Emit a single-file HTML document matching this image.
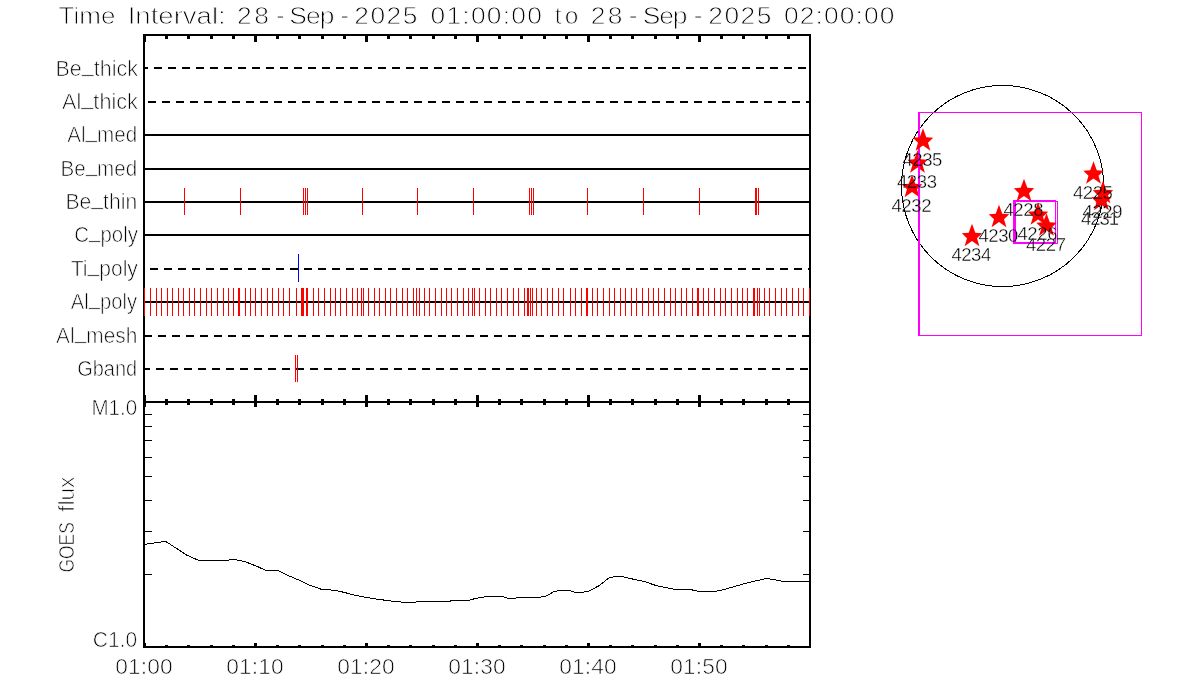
<!DOCTYPE html>
<html lang="en"><head><meta charset="utf-8"><title>Time Interval plot</title>
<style>html,body{margin:0;padding:0;background:#fff;width:1200px;height:700px;overflow:hidden}svg{display:block}text{font-family:'Liberation Sans', sans-serif;fill:#000}.t{stroke:#fff;mix-blend-mode:darken}</style></head><body>
<svg width="1200" height="700" viewBox="0 0 1200 700">
<rect width="1200" height="700" fill="#fff"/>
<g shape-rendering="crispEdges">
<path d="M145 68h3M154 68h8M168 68h8M182 68h8M196 68h8M210 68h8M224 68h8M238 68h8M252 68h8M266 68h8M280 68h8M294 68h8M308 68h8M322 68h8M336 68h8M350 68h8M364 68h8M378 68h8M392 68h8M406 68h8M420 68h8M434 68h8M448 68h8M462 68h8M476 68h8M490 68h8M504 68h8M518 68h8M532 68h8M546 68h8M560 68h8M574 68h8M588 68h8M602 68h8M616 68h8M630 68h8M644 68h8M658 68h8M672 68h8M686 68h8M700 68h8M714 68h8M728 68h8M742 68h8M756 68h8M770 68h8M784 68h8M798 68h8" stroke="#000" stroke-width="2" fill="none"/>
<path d="M148 102h8M162 102h8M176 102h8M190 102h8M204 102h8M218 102h8M232 102h8M246 102h8M260 102h8M274 102h8M288 102h8M302 102h8M316 102h8M330 102h8M344 102h8M358 102h8M372 102h8M386 102h8M400 102h8M414 102h8M428 102h8M442 102h8M456 102h8M470 102h8M484 102h8M498 102h8M512 102h8M526 102h8M540 102h8M554 102h8M568 102h8M582 102h8M596 102h8M610 102h8M624 102h8M638 102h8M652 102h8M666 102h8M680 102h8M694 102h8M708 102h8M722 102h8M736 102h8M750 102h8M764 102h8M778 102h8M792 102h8M806 102h3" stroke="#000" stroke-width="2" fill="none"/>
<rect x="145" y="134" width="664" height="2" fill="#000"/>
<rect x="145" y="168" width="664" height="2" fill="#000"/>
<rect x="145" y="201" width="664" height="2" fill="#000"/>
<rect x="145" y="234" width="664" height="2" fill="#000"/>
<path d="M150 269h8M164 269h8M178 269h8M192 269h8M206 269h8M220 269h8M234 269h8M248 269h8M262 269h8M276 269h8M290 269h8M304 269h8M318 269h8M332 269h8M346 269h8M360 269h8M374 269h8M388 269h8M402 269h8M416 269h8M430 269h8M444 269h8M458 269h8M472 269h8M486 269h8M500 269h8M514 269h8M528 269h8M542 269h8M556 269h8M570 269h8M584 269h8M598 269h8M612 269h8M626 269h8M640 269h8M654 269h8M668 269h8M682 269h8M696 269h8M710 269h8M724 269h8M738 269h8M752 269h8M766 269h8M780 269h8M794 269h8M808 269h1" stroke="#000" stroke-width="2" fill="none"/>
<rect x="145" y="301" width="664" height="2" fill="#000"/>
<path d="M145 336h7M158 336h8M172 336h8M186 336h8M200 336h8M214 336h8M228 336h8M242 336h8M256 336h8M270 336h8M284 336h8M298 336h8M312 336h8M326 336h8M340 336h8M354 336h8M368 336h8M382 336h8M396 336h8M410 336h8M424 336h8M438 336h8M452 336h8M466 336h8M480 336h8M494 336h8M508 336h8M522 336h8M536 336h8M550 336h8M564 336h8M578 336h8M592 336h8M606 336h8M620 336h8M634 336h8M648 336h8M662 336h8M676 336h8M690 336h8M704 336h8M718 336h8M732 336h8M746 336h8M760 336h8M774 336h8M788 336h8M802 336h7" stroke="#000" stroke-width="2" fill="none"/>
<path d="M145 369h5M156 369h8M170 369h8M184 369h8M198 369h8M212 369h8M226 369h8M240 369h8M254 369h8M268 369h8M282 369h8M296 369h8M310 369h8M324 369h8M338 369h8M352 369h8M366 369h8M380 369h8M394 369h8M408 369h8M422 369h8M436 369h8M450 369h8M464 369h8M478 369h8M492 369h8M506 369h8M520 369h8M534 369h8M548 369h8M562 369h8M576 369h8M590 369h8M604 369h8M618 369h8M632 369h8M646 369h8M660 369h8M674 369h8M688 369h8M702 369h8M716 369h8M730 369h8M744 369h8M758 369h8M772 369h8M786 369h8M800 369h8" stroke="#000" stroke-width="2" fill="none"/>
<rect x="143" y="34" width="2" height="614" fill="#000"/>
<rect x="809" y="34" width="2" height="614" fill="#000"/>
<rect x="143" y="34" width="668" height="2" fill="#000"/>
<rect x="143" y="401" width="668" height="2" fill="#000"/>
<rect x="143" y="646" width="668" height="2" fill="#000"/>
<rect x="143" y="36" width="3" height="6" fill="#000"/>
<rect x="143" y="395" width="3" height="12" fill="#000"/>
<rect x="143" y="643" width="3" height="3" fill="#000"/>
<rect x="165" y="36" width="3" height="3" fill="#000"/>
<rect x="165" y="399" width="3" height="6" fill="#000"/>
<rect x="165" y="645" width="3" height="1" fill="#000"/>
<rect x="187" y="36" width="3" height="3" fill="#000"/>
<rect x="187" y="399" width="3" height="6" fill="#000"/>
<rect x="187" y="645" width="3" height="1" fill="#000"/>
<rect x="210" y="36" width="3" height="3" fill="#000"/>
<rect x="210" y="399" width="3" height="6" fill="#000"/>
<rect x="210" y="645" width="3" height="1" fill="#000"/>
<rect x="232" y="36" width="3" height="3" fill="#000"/>
<rect x="232" y="399" width="3" height="6" fill="#000"/>
<rect x="232" y="645" width="3" height="1" fill="#000"/>
<rect x="254" y="36" width="3" height="6" fill="#000"/>
<rect x="254" y="395" width="3" height="12" fill="#000"/>
<rect x="254" y="643" width="3" height="3" fill="#000"/>
<rect x="276" y="36" width="3" height="3" fill="#000"/>
<rect x="276" y="399" width="3" height="6" fill="#000"/>
<rect x="276" y="645" width="3" height="1" fill="#000"/>
<rect x="298" y="36" width="3" height="3" fill="#000"/>
<rect x="298" y="399" width="3" height="6" fill="#000"/>
<rect x="298" y="645" width="3" height="1" fill="#000"/>
<rect x="321" y="36" width="3" height="3" fill="#000"/>
<rect x="321" y="399" width="3" height="6" fill="#000"/>
<rect x="321" y="645" width="3" height="1" fill="#000"/>
<rect x="343" y="36" width="3" height="3" fill="#000"/>
<rect x="343" y="399" width="3" height="6" fill="#000"/>
<rect x="343" y="645" width="3" height="1" fill="#000"/>
<rect x="365" y="36" width="3" height="6" fill="#000"/>
<rect x="365" y="395" width="3" height="12" fill="#000"/>
<rect x="365" y="643" width="3" height="3" fill="#000"/>
<rect x="387" y="36" width="3" height="3" fill="#000"/>
<rect x="387" y="399" width="3" height="6" fill="#000"/>
<rect x="387" y="645" width="3" height="1" fill="#000"/>
<rect x="409" y="36" width="3" height="3" fill="#000"/>
<rect x="409" y="399" width="3" height="6" fill="#000"/>
<rect x="409" y="645" width="3" height="1" fill="#000"/>
<rect x="432" y="36" width="3" height="3" fill="#000"/>
<rect x="432" y="399" width="3" height="6" fill="#000"/>
<rect x="432" y="645" width="3" height="1" fill="#000"/>
<rect x="454" y="36" width="3" height="3" fill="#000"/>
<rect x="454" y="399" width="3" height="6" fill="#000"/>
<rect x="454" y="645" width="3" height="1" fill="#000"/>
<rect x="476" y="36" width="3" height="6" fill="#000"/>
<rect x="476" y="395" width="3" height="12" fill="#000"/>
<rect x="476" y="643" width="3" height="3" fill="#000"/>
<rect x="498" y="36" width="3" height="3" fill="#000"/>
<rect x="498" y="399" width="3" height="6" fill="#000"/>
<rect x="498" y="645" width="3" height="1" fill="#000"/>
<rect x="520" y="36" width="3" height="3" fill="#000"/>
<rect x="520" y="399" width="3" height="6" fill="#000"/>
<rect x="520" y="645" width="3" height="1" fill="#000"/>
<rect x="543" y="36" width="3" height="3" fill="#000"/>
<rect x="543" y="399" width="3" height="6" fill="#000"/>
<rect x="543" y="645" width="3" height="1" fill="#000"/>
<rect x="565" y="36" width="3" height="3" fill="#000"/>
<rect x="565" y="399" width="3" height="6" fill="#000"/>
<rect x="565" y="645" width="3" height="1" fill="#000"/>
<rect x="587" y="36" width="3" height="6" fill="#000"/>
<rect x="587" y="395" width="3" height="12" fill="#000"/>
<rect x="587" y="643" width="3" height="3" fill="#000"/>
<rect x="609" y="36" width="3" height="3" fill="#000"/>
<rect x="609" y="399" width="3" height="6" fill="#000"/>
<rect x="609" y="645" width="3" height="1" fill="#000"/>
<rect x="631" y="36" width="3" height="3" fill="#000"/>
<rect x="631" y="399" width="3" height="6" fill="#000"/>
<rect x="631" y="645" width="3" height="1" fill="#000"/>
<rect x="654" y="36" width="3" height="3" fill="#000"/>
<rect x="654" y="399" width="3" height="6" fill="#000"/>
<rect x="654" y="645" width="3" height="1" fill="#000"/>
<rect x="676" y="36" width="3" height="3" fill="#000"/>
<rect x="676" y="399" width="3" height="6" fill="#000"/>
<rect x="676" y="645" width="3" height="1" fill="#000"/>
<rect x="698" y="36" width="3" height="6" fill="#000"/>
<rect x="698" y="395" width="3" height="12" fill="#000"/>
<rect x="698" y="643" width="3" height="3" fill="#000"/>
<rect x="720" y="36" width="3" height="3" fill="#000"/>
<rect x="720" y="399" width="3" height="6" fill="#000"/>
<rect x="720" y="645" width="3" height="1" fill="#000"/>
<rect x="742" y="36" width="3" height="3" fill="#000"/>
<rect x="742" y="399" width="3" height="6" fill="#000"/>
<rect x="742" y="645" width="3" height="1" fill="#000"/>
<rect x="765" y="36" width="3" height="3" fill="#000"/>
<rect x="765" y="399" width="3" height="6" fill="#000"/>
<rect x="765" y="645" width="3" height="1" fill="#000"/>
<rect x="787" y="36" width="3" height="3" fill="#000"/>
<rect x="787" y="399" width="3" height="6" fill="#000"/>
<rect x="787" y="645" width="3" height="1" fill="#000"/>
<rect x="145" y="414" width="7" height="1" fill="#000"/>
<rect x="803" y="414" width="6" height="1" fill="#000"/>
<rect x="145" y="426" width="7" height="1" fill="#000"/>
<rect x="803" y="426" width="6" height="1" fill="#000"/>
<rect x="145" y="440" width="7" height="1" fill="#000"/>
<rect x="803" y="440" width="6" height="1" fill="#000"/>
<rect x="145" y="457" width="7" height="1" fill="#000"/>
<rect x="803" y="457" width="6" height="1" fill="#000"/>
<rect x="145" y="476" width="7" height="1" fill="#000"/>
<rect x="803" y="476" width="6" height="1" fill="#000"/>
<rect x="145" y="500" width="7" height="1" fill="#000"/>
<rect x="803" y="500" width="6" height="1" fill="#000"/>
<rect x="145" y="531" width="7" height="1" fill="#000"/>
<rect x="803" y="531" width="6" height="1" fill="#000"/>
<rect x="145" y="574" width="7" height="1" fill="#000"/>
<rect x="803" y="574" width="6" height="1" fill="#000"/>
<rect x="184" y="188" width="1" height="27" fill="#f00"/>
<rect x="240" y="188" width="1" height="27" fill="#f00"/>
<rect x="303" y="188" width="1" height="27" fill="#f00"/>
<rect x="305" y="188" width="1" height="27" fill="#f00"/>
<rect x="307" y="188" width="1" height="27" fill="#f00"/>
<rect x="362" y="188" width="1" height="27" fill="#f00"/>
<rect x="417" y="188" width="1" height="27" fill="#f00"/>
<rect x="473" y="188" width="1" height="27" fill="#f00"/>
<rect x="529" y="188" width="1" height="27" fill="#f00"/>
<rect x="531" y="188" width="1" height="27" fill="#f00"/>
<rect x="533" y="188" width="1" height="27" fill="#f00"/>
<rect x="587" y="188" width="1" height="27" fill="#f00"/>
<rect x="643" y="188" width="1" height="27" fill="#f00"/>
<rect x="699" y="188" width="1" height="27" fill="#f00"/>
<rect x="755" y="188" width="2" height="27" fill="#f00"/>
<rect x="758" y="188" width="1" height="27" fill="#f00"/>
<rect x="144" y="288" width="1" height="28" fill="#f00"/>
<rect x="150" y="288" width="1" height="28" fill="#f00"/>
<rect x="156" y="288" width="1" height="28" fill="#f00"/>
<rect x="161" y="288" width="1" height="28" fill="#f00"/>
<rect x="167" y="288" width="1" height="28" fill="#f00"/>
<rect x="172" y="288" width="1" height="28" fill="#f00"/>
<rect x="178" y="288" width="1" height="28" fill="#f00"/>
<rect x="183" y="288" width="1" height="28" fill="#f00"/>
<rect x="189" y="288" width="1" height="28" fill="#f00"/>
<rect x="194" y="288" width="1" height="28" fill="#f00"/>
<rect x="200" y="288" width="1" height="28" fill="#f00"/>
<rect x="206" y="288" width="1" height="28" fill="#f00"/>
<rect x="211" y="288" width="1" height="28" fill="#f00"/>
<rect x="217" y="288" width="1" height="28" fill="#f00"/>
<rect x="223" y="288" width="1" height="28" fill="#f00"/>
<rect x="228" y="288" width="1" height="28" fill="#f00"/>
<rect x="233" y="288" width="1" height="28" fill="#f00"/>
<rect x="238" y="288" width="2" height="28" fill="#f00"/>
<rect x="245" y="288" width="1" height="28" fill="#f00"/>
<rect x="250" y="288" width="1" height="28" fill="#f00"/>
<rect x="255" y="288" width="1" height="28" fill="#f00"/>
<rect x="261" y="288" width="1" height="28" fill="#f00"/>
<rect x="267" y="288" width="1" height="28" fill="#f00"/>
<rect x="272" y="288" width="1" height="28" fill="#f00"/>
<rect x="278" y="288" width="1" height="28" fill="#f00"/>
<rect x="283" y="288" width="1" height="28" fill="#f00"/>
<rect x="289" y="288" width="1" height="28" fill="#f00"/>
<rect x="296" y="288" width="1" height="28" fill="#f00"/>
<rect x="301" y="288" width="3" height="28" fill="#f00"/>
<rect x="306" y="288" width="2" height="28" fill="#f00"/>
<rect x="313" y="288" width="1" height="28" fill="#f00"/>
<rect x="318" y="288" width="1" height="28" fill="#f00"/>
<rect x="324" y="288" width="1" height="28" fill="#f00"/>
<rect x="330" y="288" width="1" height="28" fill="#f00"/>
<rect x="335" y="288" width="1" height="28" fill="#f00"/>
<rect x="340" y="288" width="1" height="28" fill="#f00"/>
<rect x="346" y="288" width="1" height="28" fill="#f00"/>
<rect x="352" y="288" width="1" height="28" fill="#f00"/>
<rect x="357" y="288" width="1" height="28" fill="#f00"/>
<rect x="361" y="288" width="1" height="28" fill="#f00"/>
<rect x="363" y="288" width="1" height="28" fill="#f00"/>
<rect x="368" y="288" width="1" height="28" fill="#f00"/>
<rect x="374" y="288" width="1" height="28" fill="#f00"/>
<rect x="379" y="288" width="1" height="28" fill="#f00"/>
<rect x="385" y="288" width="1" height="28" fill="#f00"/>
<rect x="390" y="288" width="1" height="28" fill="#f00"/>
<rect x="396" y="288" width="1" height="28" fill="#f00"/>
<rect x="402" y="288" width="1" height="28" fill="#f00"/>
<rect x="407" y="288" width="1" height="28" fill="#f00"/>
<rect x="413" y="288" width="1" height="28" fill="#f00"/>
<rect x="416" y="288" width="1" height="28" fill="#f00"/>
<rect x="419" y="288" width="1" height="28" fill="#f00"/>
<rect x="424" y="288" width="1" height="28" fill="#f00"/>
<rect x="429" y="288" width="1" height="28" fill="#f00"/>
<rect x="435" y="288" width="1" height="28" fill="#f00"/>
<rect x="441" y="288" width="1" height="28" fill="#f00"/>
<rect x="446" y="288" width="1" height="28" fill="#f00"/>
<rect x="451" y="288" width="1" height="28" fill="#f00"/>
<rect x="457" y="288" width="1" height="28" fill="#f00"/>
<rect x="463" y="288" width="1" height="28" fill="#f00"/>
<rect x="468" y="288" width="1" height="28" fill="#f00"/>
<rect x="472" y="288" width="1" height="28" fill="#f00"/>
<rect x="474" y="288" width="1" height="28" fill="#f00"/>
<rect x="479" y="288" width="1" height="28" fill="#f00"/>
<rect x="485" y="288" width="1" height="28" fill="#f00"/>
<rect x="490" y="288" width="1" height="28" fill="#f00"/>
<rect x="496" y="288" width="1" height="28" fill="#f00"/>
<rect x="501" y="288" width="1" height="28" fill="#f00"/>
<rect x="507" y="288" width="1" height="28" fill="#f00"/>
<rect x="513" y="288" width="1" height="28" fill="#f00"/>
<rect x="518" y="288" width="1" height="28" fill="#f00"/>
<rect x="524" y="288" width="1" height="28" fill="#f00"/>
<rect x="527" y="288" width="2" height="28" fill="#f00"/>
<rect x="530" y="288" width="1" height="28" fill="#f00"/>
<rect x="532" y="288" width="1" height="28" fill="#f00"/>
<rect x="536" y="288" width="1" height="28" fill="#f00"/>
<rect x="541" y="288" width="1" height="28" fill="#f00"/>
<rect x="547" y="288" width="1" height="28" fill="#f00"/>
<rect x="552" y="288" width="1" height="28" fill="#f00"/>
<rect x="558" y="288" width="1" height="28" fill="#f00"/>
<rect x="563" y="288" width="1" height="28" fill="#f00"/>
<rect x="570" y="288" width="1" height="28" fill="#f00"/>
<rect x="575" y="288" width="1" height="28" fill="#f00"/>
<rect x="581" y="288" width="1" height="28" fill="#f00"/>
<rect x="586" y="288" width="2" height="28" fill="#f00"/>
<rect x="592" y="288" width="1" height="28" fill="#f00"/>
<rect x="597" y="288" width="1" height="28" fill="#f00"/>
<rect x="603" y="288" width="1" height="28" fill="#f00"/>
<rect x="609" y="288" width="1" height="28" fill="#f00"/>
<rect x="614" y="288" width="1" height="28" fill="#f00"/>
<rect x="620" y="288" width="1" height="28" fill="#f00"/>
<rect x="625" y="288" width="1" height="28" fill="#f00"/>
<rect x="631" y="288" width="1" height="28" fill="#f00"/>
<rect x="636" y="288" width="1" height="28" fill="#f00"/>
<rect x="642" y="288" width="1" height="28" fill="#f00"/>
<rect x="648" y="288" width="1" height="28" fill="#f00"/>
<rect x="653" y="288" width="1" height="28" fill="#f00"/>
<rect x="658" y="288" width="1" height="28" fill="#f00"/>
<rect x="664" y="288" width="1" height="28" fill="#f00"/>
<rect x="670" y="288" width="1" height="28" fill="#f00"/>
<rect x="675" y="288" width="1" height="28" fill="#f00"/>
<rect x="681" y="288" width="1" height="28" fill="#f00"/>
<rect x="686" y="288" width="1" height="28" fill="#f00"/>
<rect x="692" y="288" width="1" height="28" fill="#f00"/>
<rect x="697" y="288" width="2" height="28" fill="#f00"/>
<rect x="703" y="288" width="1" height="28" fill="#f00"/>
<rect x="708" y="288" width="1" height="28" fill="#f00"/>
<rect x="714" y="288" width="1" height="28" fill="#f00"/>
<rect x="720" y="288" width="1" height="28" fill="#f00"/>
<rect x="725" y="288" width="1" height="28" fill="#f00"/>
<rect x="731" y="288" width="1" height="28" fill="#f00"/>
<rect x="737" y="288" width="1" height="28" fill="#f00"/>
<rect x="742" y="288" width="1" height="28" fill="#f00"/>
<rect x="747" y="288" width="1" height="28" fill="#f00"/>
<rect x="753" y="288" width="2" height="28" fill="#f00"/>
<rect x="757" y="288" width="1" height="28" fill="#f00"/>
<rect x="759" y="288" width="1" height="28" fill="#f00"/>
<rect x="764" y="288" width="1" height="28" fill="#f00"/>
<rect x="769" y="288" width="1" height="28" fill="#f00"/>
<rect x="775" y="288" width="1" height="28" fill="#f00"/>
<rect x="781" y="288" width="1" height="28" fill="#f00"/>
<rect x="786" y="288" width="1" height="28" fill="#f00"/>
<rect x="792" y="288" width="1" height="28" fill="#f00"/>
<rect x="798" y="288" width="1" height="28" fill="#f00"/>
<rect x="803" y="288" width="1" height="28" fill="#f00"/>
<rect x="809" y="288" width="1" height="28" fill="#f00"/>
<rect x="298" y="254" width="1" height="28" fill="#00f"/>
<rect x="295" y="355" width="1" height="27" fill="#f00"/>
<rect x="297" y="355" width="1" height="27" fill="#f00"/>
<polyline points="144.5,544.4 165.7,541.4 187.1,555.3 198.6,560.4 227.1,560.4 231.4,559.4 237,560 245.7,561.9 257.1,566.4 265.7,570.4 277.9,570.4 287,575 298.6,580 310,585.4 321.4,589.3 335.7,590.4 342.9,592.1 357.1,595.7 375.7,599 394.3,601.4 405.7,602.4 415.7,602.4 417.1,601.4 450,601.4 451.4,600.4 468.6,600.4 475.7,598.4 487.1,596.4 501.4,596.4 508.6,598.4 515.7,598.4 517.1,597.4 538.6,597.4 545.7,596.4 554.3,591.4 561.4,590.4 568.6,590.4 575.7,592.4 582.1,592.4 588.6,591.1 598.6,586 609.3,577.6 617.1,576.4 622.9,576.4 625,577.4 645,581.7 656.7,585.8 675,589.4 690,589.4 698.3,591.4 715,591.4 723.3,589.7 746.7,583 766.7,578.4 783.3,581.4 809.5,581.4" fill="none" stroke="#000" stroke-width="1"/>
<ellipse cx="1002.6" cy="186" rx="101.1" ry="100.6" fill="none" stroke="#000" stroke-width="1"/>
</g>
<g shape-rendering="crispEdges">
<rect x="1013" y="200" width="3" height="44" fill="#f0f"/>
<rect x="1013" y="200" width="43" height="1" fill="#f0f"/>
<rect x="1015" y="201" width="43" height="1" fill="#f0f"/>
<rect x="1055" y="200" width="1" height="43" fill="#f0f"/>
<rect x="1057" y="201" width="1" height="43" fill="#f0f"/>
<rect x="1013" y="242" width="43" height="1" fill="#f0f"/>
<rect x="1015" y="243" width="43" height="1" fill="#f0f"/>
</g>
<polygon points="917.50,150.30 920.80,159.20 927.70,159.80 922.50,164.80 924.90,172.70 917.50,167.50 910.10,172.70 912.50,164.80 907.30,159.80 914.20,159.20" fill="#f00"/>
<polygon points="912.00,174.80 915.30,183.70 922.20,184.30 917.00,189.30 919.40,197.20 912.00,192.00 904.60,197.20 907.00,189.30 901.80,184.30 908.70,183.70" fill="#f00"/>
<polygon points="1093.50,161.30 1096.80,170.20 1103.70,170.80 1098.50,175.80 1100.90,183.70 1093.50,178.50 1086.10,183.70 1088.50,175.80 1083.30,170.80 1090.20,170.20" fill="#f00"/>
<polygon points="1103.00,180.80 1106.30,189.70 1113.20,190.30 1108.00,195.30 1110.40,203.20 1103.00,198.00 1095.60,203.20 1098.00,195.30 1092.80,190.30 1099.70,189.70" fill="#f00"/>
<polygon points="1101.50,187.80 1104.80,196.70 1111.70,197.30 1106.50,202.30 1108.90,210.20 1101.50,205.00 1094.10,210.20 1096.50,202.30 1091.30,197.30 1098.20,196.70" fill="#f00"/>
<polygon points="1024.00,178.80 1027.30,187.70 1034.20,188.30 1029.00,193.30 1031.40,201.20 1024.00,196.00 1016.60,201.20 1019.00,193.30 1013.80,188.30 1020.70,187.70" fill="#f00"/>
<polygon points="999.00,204.80 1002.30,213.70 1009.20,214.30 1004.00,219.30 1006.40,227.20 999.00,222.00 991.60,227.20 994.00,219.30 988.80,214.30 995.70,213.70" fill="#f00"/>
<polygon points="1038.00,202.30 1041.30,211.20 1048.20,211.80 1043.00,216.80 1045.40,224.70 1038.00,219.50 1030.60,224.70 1033.00,216.80 1027.80,211.80 1034.70,211.20" fill="#f00"/>
<polygon points="1046.50,213.30 1049.80,222.20 1056.70,222.80 1051.50,227.80 1053.90,235.70 1046.50,230.50 1039.10,235.70 1041.50,227.80 1036.30,222.80 1043.20,222.20" fill="#f00"/>
<polygon points="972.00,223.80 975.30,232.70 982.20,233.30 977.00,238.30 979.40,246.20 972.00,241.00 964.60,246.20 967.00,238.30 961.80,233.30 968.70,232.70" fill="#f00"/>
<g shape-rendering="crispEdges">
<rect x="918" y="112" width="2" height="224" fill="#f0f"/>
<rect x="918" y="112" width="224" height="1" fill="#f0f"/>
<rect x="1141" y="112" width="1" height="224" fill="#f0f"/>
<rect x="918" y="335" width="224" height="1" fill="#f0f"/>
</g>
<polygon points="923.00,128.30 926.30,137.20 933.20,137.80 928.00,142.80 930.40,150.70 923.00,145.50 915.60,150.70 918.00,142.80 912.80,137.80 919.70,137.20" fill="#f00"/>
<text class="t" id="title" y="24.00" font-size="24.5" stroke-width="0.85"><tspan x="58.6" textLength="56.95" lengthAdjust="spacingAndGlyphs">Time</tspan> <tspan x="127.7" textLength="98.00" lengthAdjust="spacingAndGlyphs">Interval:</tspan> <tspan x="236.99 254.36 276.09 289.37 306.06 319.82 340.34 354.24 370.44 386.63 402.82" textLength="153.01" lengthAdjust="spacingAndGlyphs" dy="0 0 -1.2 1.2 0 0 -1.2 1.2 0 0 0">28-Sep-2025</tspan> <tspan x="430.54 446.46 462.38 470.93 486.85 502.77 511.32 527.24" textLength="103.01" lengthAdjust="spacingAndGlyphs">01:00:00</tspan> <tspan x="554.7 564.83">to</tspan> <tspan x="590.74 607.86 628.84 642.87 659.31 672.82 693.84 708.24 724.44 740.63 756.82" textLength="153.01" lengthAdjust="spacingAndGlyphs" dy="0 0 -1.2 1.2 0 0 -1.2 1.2 0 0 0">28-Sep-2025</tspan> <tspan x="784.04 799.82 815.59 824 839.78 855.56 863.97 879.74" textLength="103.01" lengthAdjust="spacingAndGlyphs">02:00:00</tspan></text>
<text class="t" id="lb0" x="55.53" textLength="82.37" lengthAdjust="spacingAndGlyphs" dy="0 0 -4 4 0 0 0 0" y="76.20" font-size="21.5" stroke-width="0.7">Be_thick</text>
<text class="t" id="lb1" x="62.1" textLength="75.80" lengthAdjust="spacingAndGlyphs" dy="0 0 -4 4 0 0 0 0" y="109.20" font-size="21.5" stroke-width="0.7">Al_thick</text>
<text class="t" id="lb2" x="67.18" textLength="69.97" lengthAdjust="spacingAndGlyphs" dy="0 0 -4 4 0 0" y="142.20" font-size="21.5" stroke-width="0.7">Al_med</text>
<text class="t" id="lb3" x="60.44" textLength="76.71" lengthAdjust="spacingAndGlyphs" dy="0 0 -4 4 0 0" y="176.20" font-size="21.5" stroke-width="0.7">Be_med</text>
<text class="t" id="lb4" x="65.44" textLength="71.71" lengthAdjust="spacingAndGlyphs" dy="0 0 -4 4 0 0 0" y="209.20" font-size="21.5" stroke-width="0.7">Be_thin</text>
<text class="t" id="lb5" x="74.26" textLength="63.64" lengthAdjust="spacingAndGlyphs" dy="0 -4 4 0 0 0" y="242.20" font-size="21.5" stroke-width="0.7">C_poly</text>
<text class="t" id="lb6" x="70.72" textLength="67.18" lengthAdjust="spacingAndGlyphs" dy="0 0 -4 4 0 0 0" y="276.20" font-size="21.5" stroke-width="0.7">Ti_poly</text>
<text class="t" id="lb7" x="70.8" textLength="66.20" lengthAdjust="spacingAndGlyphs" dy="0 0 -4 4 0 0 0" y="309.20" font-size="21.5" stroke-width="0.7">Al_poly</text>
<text class="t" id="lb8" x="56.1" textLength="81.28" lengthAdjust="spacingAndGlyphs" dy="0 0 -4 4 0 0 0" y="343.20" font-size="21.5" stroke-width="0.7">Al_mesh</text>
<text class="t" id="lb9" x="77.18" textLength="59.97" lengthAdjust="spacingAndGlyphs" y="376.20" font-size="21.5" stroke-width="0.7">Gband</text>
<text class="t" id="m1" x="91.44" textLength="45.71" lengthAdjust="spacingAndGlyphs" y="415.00" font-size="21.5" stroke-width="0.7">M1.0</text>
<text class="t" id="c1" x="92.85" textLength="44.30" lengthAdjust="spacingAndGlyphs" y="647.00" font-size="21.5" stroke-width="0.7">C1.0</text>
<text class="t" id="xl0" x="115.26 128.05 140.83 147.28 160.07" textLength="57.04" lengthAdjust="spacingAndGlyphs" y="674.00" font-size="21.5" stroke-width="0.7">01:00</text>
<text class="t" id="xl1" x="226.26 239.05 251.83 258.28 271.07" textLength="57.04" lengthAdjust="spacingAndGlyphs" y="674.00" font-size="21.5" stroke-width="0.7">01:10</text>
<text class="t" id="xl2" x="337.26 350.05 362.83 369.28 382.07" textLength="57.04" lengthAdjust="spacingAndGlyphs" y="674.00" font-size="21.5" stroke-width="0.7">01:20</text>
<text class="t" id="xl3" x="448.26 461.05 473.83 480.28 493.07" textLength="57.04" lengthAdjust="spacingAndGlyphs" y="674.00" font-size="21.5" stroke-width="0.7">01:30</text>
<text class="t" id="xl4" x="559.26 572.05 584.83 591.28 604.07" textLength="57.04" lengthAdjust="spacingAndGlyphs" y="674.00" font-size="21.5" stroke-width="0.7">01:40</text>
<text class="t" id="xl5" x="670.26 683.05 695.83 702.28 715.07" textLength="57.04" lengthAdjust="spacingAndGlyphs" y="674.00" font-size="21.5" stroke-width="0.7">01:50</text>
<text class="t" id="ytitle" y="74.00" font-size="21.5" stroke-width="0.7" transform="rotate(-90)"><tspan x="-572.57" textLength="50.47" lengthAdjust="spacingAndGlyphs">GOES</tspan> <tspan x="-511.9" textLength="35.38" lengthAdjust="spacingAndGlyphs">flux</tspan></text>
<text class="t" id="s4235" x="902.4 912.31 922.22 932.14" textLength="41.27" lengthAdjust="spacingAndGlyphs" y="165.50" font-size="17.5" stroke-width="0.35">4235</text>
<text class="t" id="s4233" x="896.9 906.82 916.75 926.67" textLength="41.27" lengthAdjust="spacingAndGlyphs" y="187.50" font-size="17.5" stroke-width="0.35">4233</text>
<text class="t" id="s4232" x="891.4 901.36 911.33 921.29" textLength="41.27" lengthAdjust="spacingAndGlyphs" y="212.00" font-size="17.5" stroke-width="0.35">4232</text>
<text class="t" id="s4225" x="1072.9 1082.81 1092.72 1102.64" textLength="41.27" lengthAdjust="spacingAndGlyphs" y="198.50" font-size="17.5" stroke-width="0.35">4225</text>
<text class="t" id="s4229" x="1082.4 1092.35 1102.29 1112.24" textLength="41.27" lengthAdjust="spacingAndGlyphs" y="218.00" font-size="17.5" stroke-width="0.35">4229</text>
<text class="t" id="s4231" x="1080.9 1090.19 1099.48 1108.76" textLength="41.27" lengthAdjust="spacingAndGlyphs" y="225.00" font-size="17.5" stroke-width="0.35">4231</text>
<text class="t" id="s4228" x="1003.4 1013.32 1023.24 1033.16" textLength="41.27" lengthAdjust="spacingAndGlyphs" y="216.00" font-size="17.5" stroke-width="0.35">4228</text>
<text class="t" id="s4230" x="978.4 988.29 998.19 1008.08" textLength="41.27" lengthAdjust="spacingAndGlyphs" y="242.00" font-size="17.5" stroke-width="0.35">4230</text>
<text class="t" id="s4226" x="1017.4 1027.32 1037.25 1047.17" textLength="41.27" lengthAdjust="spacingAndGlyphs" y="239.50" font-size="17.5" stroke-width="0.35">4226</text>
<text class="t" id="s4227" x="1025.9 1035.86 1045.83 1055.79" textLength="41.27" lengthAdjust="spacingAndGlyphs" y="250.50" font-size="17.5" stroke-width="0.35">4227</text>
<text class="t" id="s4234" x="951.4 961.23 971.07 980.9" textLength="41.27" lengthAdjust="spacingAndGlyphs" y="261.00" font-size="17.5" stroke-width="0.35">4234</text>
</svg></body></html>
